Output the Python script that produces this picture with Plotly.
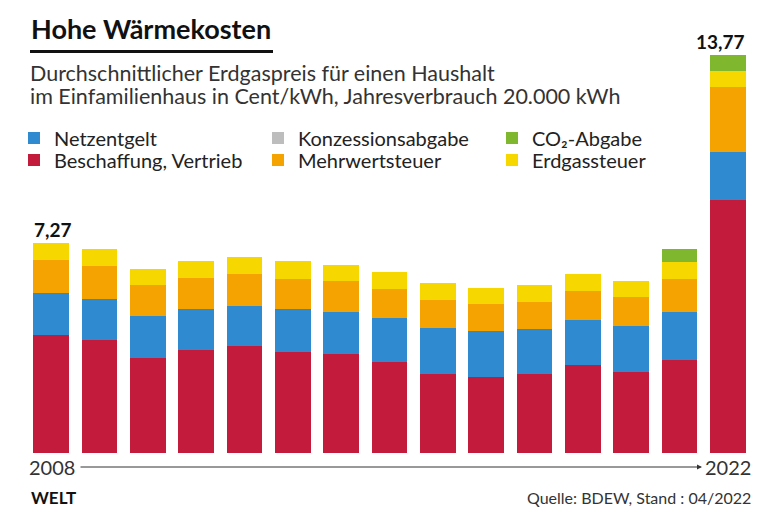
import plotly.graph_objects as go

years = list(range(2008, 2023))
beschaffung = [4.07, 3.90, 3.30, 3.57, 3.70, 3.48, 3.41, 3.14, 2.73, 2.64, 2.74, 3.05, 2.82, 3.23, 8.76]
netzentgelt = [1.47, 1.44, 1.45, 1.42, 1.40, 1.50, 1.48, 1.52, 1.61, 1.59, 1.55, 1.57, 1.59, 1.64, 1.67]
konzession = [0] * 15
mehrwert = [1.15, 1.15, 1.05, 1.06, 1.11, 1.06, 1.06, 1.03, 0.96, 0.92, 0.93, 0.98, 0.98, 1.16, 2.23]
erdgassteuer = [0.58, 0.58, 0.58, 0.59, 0.56, 0.59, 0.57, 0.58, 0.58, 0.56, 0.59, 0.58, 0.56, 0.57, 0.57]
co2 = [0, 0, 0, 0, 0, 0, 0, 0, 0, 0, 0, 0, 0, 0.46, 0.54]
total_labels = {2008: "7,27", 2022: "13,77"}
subtitle_lines = ["Durchschnittlicher Erdgaspreis für einen Haushalt",
                  "im Einfamilienhaus in Cent/kWh, Jahresverbrauch 20.000 kWh"]

FONT = "Lato"
# name, values, colour, legend id
series = [
    ("Beschaffung, Vertrieb", beschaffung, "#C21B3C", "legend2"),
    ("Netzentgelt", netzentgelt, "#2F8ACF", "legend"),
    ("Konzessionsabgabe", konzession, "#BDBDBD", "legend3"),
    ("Mehrwertsteuer", mehrwert, "#F5A300", "legend4"),
    ("Erdgassteuer", erdgassteuer, "#F6D800", "legend6"),
    ("CO₂-Abgabe", co2, "#7FB82E", "legend5"),
]

fig = go.Figure()
for name, vals, color, lg in series:
    fig.add_trace(go.Bar(
        x=years, y=vals, name=name, legend=lg,
        marker=dict(color=color, line=dict(width=0)),
        hoverinfo="skip",
    ))

totals = [sum(v) for v in zip(beschaffung, netzentgelt, konzession, mehrwert, erdgassteuer, co2)]

# Plot area geometry
L, R, T, B = 27, 28, 40, 67
H = 520 - T - B
px_per_unit = 28.89
ymax = H / px_per_unit

def yp(py):
    return (520 - B - py) / H

def xp(px):
    return (px - L) / (780 - L - R)

ann = []
# total labels
ann.append(dict(x=years[0], y=totals[0], xref="x", yref="y", text="<b>" + total_labels[years[0]] + "</b>",
                showarrow=False, xanchor="left", yanchor="bottom", xshift=-19, yshift=0,
                font=dict(family=FONT, size=19, color="#111")))
ann.append(dict(x=years[-1], y=totals[-1], xref="x", yref="y", text="<b>" + total_labels[years[-1]] + "</b>",
                showarrow=False, xanchor="right", yanchor="bottom", xshift=19, yshift=0,
                font=dict(family=FONT, size=19, color="#111")))
# title and subtitle
ann.append(dict(x=xp(29), y=yp(29), xref="paper", yref="paper", text="<b>Hohe Wärmekosten</b>",
                showarrow=False, xanchor="left", yanchor="middle",
                font=dict(family=FONT, size=27, color="#111")))
sub_text = "<br>".join("<span style='font-size:21.5px'>" + s + "</span>" for s in subtitle_lines)
ann.append(dict(x=xp(28), y=yp(84), xref="paper", yref="paper", text=sub_text,
                showarrow=False, xanchor="left", yanchor="middle", align="left",
                font=dict(family=FONT, size=18, color="#333")))
# timeline
ann.append(dict(x=xp(27), y=yp(467), xref="paper", yref="paper", text=str(years[0]),
                showarrow=False, xanchor="left", yanchor="middle",
                font=dict(family=FONT, size=20, color="#333")))
ann.append(dict(x=xp(753), y=yp(467), xref="paper", yref="paper", text=str(years[-1]),
                showarrow=False, xanchor="right", yanchor="middle",
                font=dict(family=FONT, size=20, color="#333")))
ann.append(dict(x=xp(702), y=yp(467), xref="paper", yref="paper", ax=-(702 - 79), ay=0,
                axref="pixel", ayref="pixel", text="", showarrow=True,
                arrowhead=2, arrowsize=1, arrowwidth=1, arrowcolor="#333"))
# footer
ann.append(dict(x=xp(29), y=yp(497), xref="paper", yref="paper", text="<b>WELT</b>",
                showarrow=False, xanchor="left", yanchor="middle",
                font=dict(family=FONT, size=17, color="#111")))
ann.append(dict(x=xp(753), y=yp(497), xref="paper", yref="paper",
                text="Quelle: BDEW, Stand : 04/2022",
                showarrow=False, xanchor="right", yanchor="middle",
                font=dict(family=FONT, size=16, color="#333")))

shapes = [dict(type="line", xref="paper", yref="paper", x0=xp(30), x1=xp(273), y0=yp(51.5), y1=yp(51.5),
               line=dict(color="#111", width=3))]

def legend_at(px, py):
    return dict(x=xp(px), y=yp(py), xanchor="left", yanchor="middle", orientation="v",
                bgcolor="rgba(0,0,0,0)", borderwidth=0,
                font=dict(family=FONT, size=20, color="#222"),
                itemclick=False, itemdoubleclick=False)

fig.update_layout(
    width=780, height=520,
    margin=dict(l=L, r=R, t=T, b=B),
    paper_bgcolor="white", plot_bgcolor="white",
    barmode="stack", bargap=0.256,
    xaxis=dict(visible=False, type="linear", range=[years[0] - 0.5, years[-1] + 0.5]),
    yaxis=dict(visible=False, range=[0, ymax]),
    showlegend=True,
    legend=legend_at(14, 138),
    legend2=legend_at(14, 160),
    legend3=legend_at(258, 138),
    legend4=legend_at(258, 160),
    legend5=legend_at(492, 138),
    legend6=legend_at(492, 160),
    annotations=ann, shapes=shapes,
    font=dict(family=FONT),
)

fig.write_html("out.html")
